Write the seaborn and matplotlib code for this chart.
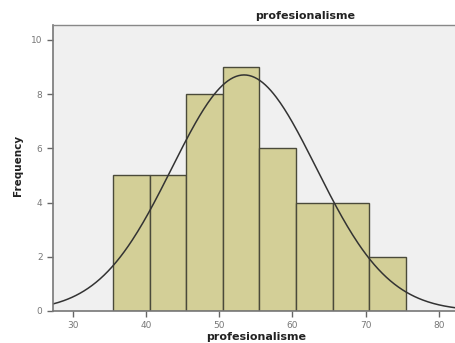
import numpy as np
import matplotlib
matplotlib.use("Agg")
import matplotlib.pyplot as plt
import seaborn as sns

sns.set_style("white")
plt.rcParams["font.family"] = ["DejaVu Sans"]

# Histogram data
bin_edges = [35.5, 40.5, 45.5, 50.5, 55.5, 60.5, 65.5, 70.5, 75.5]
counts = [5, 5, 8, 9, 6, 4, 4, 2]
# Normal curve parameters (SPSS overlay)
mean_val = 53.4
sd_val = 9.85
n_total = sum(counts)
bin_width = 5

centers = [(a + b) / 2 for a, b in zip(bin_edges[:-1], bin_edges[1:])]

fig = plt.figure(figsize=(4.55, 3.43), dpi=100)
ax = fig.add_axes([53 / 455, 1 - 311 / 343, 1 - 53 / 455, (311 - 25) / 343])
ax.set_facecolor("#F0F0F0")

sns.histplot(x=centers, weights=counts, bins=bin_edges, ax=ax,
             color="#D3CF97", edgecolor="#4A4A3A", linewidth=1.0, alpha=1)

xs = np.linspace(27.3, 82.2, 300)
ys = n_total * bin_width / (sd_val * np.sqrt(2 * np.pi)) * np.exp(-0.5 * ((xs - mean_val) / sd_val) ** 2)
sns.lineplot(x=xs, y=ys, ax=ax, color="#333333", linewidth=1.1)

ax.set_xlim(27.3, 82.2)
ax.set_ylim(0, 10.55)
ax.set_xticks([30, 40, 50, 60, 70, 80])
ax.set_yticks([0, 2, 4, 6, 8, 10])
ax.tick_params(axis="both", labelsize=6.5, labelcolor="#777777", color="#666666",
               length=4, width=1, direction="out", bottom=True, left=True)
for side in ["left", "bottom"]:
    ax.spines[side].set_color("#777777")
    ax.spines[side].set_linewidth(1.2)
ax.spines["top"].set_color("#888888")
ax.spines["top"].set_linewidth(1.0)
ax.spines["right"].set_visible(False)

ax.set_xlabel("")
ax.set_ylabel("")
fig.text(256 / 455, 1 - 337 / 343, "profesionalisme", ha="center", va="center",
         fontsize=8, fontweight="bold", color="#222222")
fig.text(18 / 455, 1 - 165 / 343, "Frequency", ha="center", va="center",
         rotation=90, fontsize=7.5, fontweight="bold", color="#222222")
fig.text(305 / 455, 1 - 16 / 343, "profesionalisme", ha="center", va="center",
         fontsize=8, fontweight="bold", color="#222222")

plt.savefig("out.png", dpi=100)
